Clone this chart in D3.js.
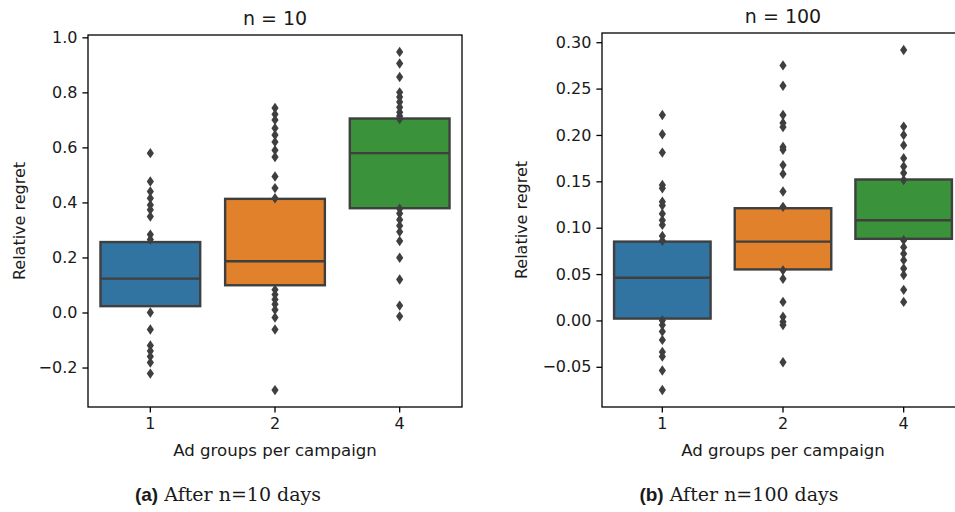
<!DOCTYPE html>
<html>
<head>
<meta charset="utf-8">
<script src="https://cdn.jsdelivr.net/npm/d3@7"></script>
<style>
  body { margin: 0; background: #fff; }
  svg text { font-family: "DejaVu Sans", sans-serif; fill: #1a1a1a; }
</style>
</head>
<body>
<div id="chart"></div>
<script>
// Data (seaborn box plots, fliers drawn outside each box)
const groups = ["1", "2", "4"];
const boxColors = ["#3274a1", "#e1812c", "#3a923a"];

// n = 10 days
const q1N10 = [0.023, 0.099, 0.379];
const medN10 = [0.123, 0.186, 0.579];
const q3N10 = [0.256, 0.413, 0.705];
const fliersN10 = [
  [0.579, 0.476, 0.44, 0.415, 0.391, 0.373, 0.349, 0.283, 0.265,
   0.0, -0.062, -0.12, -0.14, -0.16, -0.182, -0.222],
  [0.743, 0.72, 0.70, 0.67, 0.645, 0.62, 0.59, 0.565, 0.494, 0.452, 0.415,
   0.083, 0.065, 0.047, 0.03, 0.01, -0.018, -0.062, -0.282],
  [0.947, 0.905, 0.856, 0.80, 0.783, 0.765, 0.746, 0.728, 0.714, 0.703,
   0.377, 0.36, 0.337, 0.315, 0.293, 0.26, 0.199, 0.12, 0.025, -0.014]
];

// n = 100 days
const q1N100 = [0.002, 0.055, 0.088];
const medN100 = [0.046, 0.085, 0.108];
const q3N100 = [0.085, 0.121, 0.152];
const fliersN100 = [
  [0.2215, 0.2007, 0.181, 0.146, 0.1425, 0.128, 0.124, 0.115, 0.108, 0.103, 0.091, 0.086,
   0.0, -0.005, -0.012, -0.021, -0.034, -0.039, -0.054, -0.075],
  [0.275, 0.253, 0.2215, 0.213, 0.2085, 0.187, 0.184, 0.1675, 0.158, 0.139, 0.1225,
   0.054, 0.045, 0.02, 0.004, -0.0015, -0.005, -0.045],
  [0.2916, 0.209, 0.2, 0.189, 0.175, 0.166, 0.159, 0.1515,
   0.0866, 0.079, 0.072, 0.065, 0.056, 0.049, 0.033, 0.02]
];

const WIDTH = 955;
const HEIGHT = 512;
const EDGE = "#3f3f3f";

const svg = d3.select("#chart").append("svg")
  .attr("width", WIDTH).attr("height", HEIGHT);

function drawPanel(opts) {
  const { left, right, top, bottom, title, q1, med, q3, fliers, fmt, tickCount, ylabelX } = opts;

  let allVals = fliers.flat().concat(q1, q3);
  let lo = d3.min(allVals), hi = d3.max(allVals);
  let pad = (hi - lo) * 0.05;

  let x = d3.scaleBand().domain(groups).range([left, right]).padding(0);
  let y = d3.scaleLinear().domain([lo - pad, hi + pad]).range([bottom, top]);

  let g = svg.append("g");
  let bw = x.bandwidth() * 0.8;

  // boxes
  groups.forEach((grp, i) => {
    let cx = x(grp) + x.bandwidth() / 2;
    g.append("rect")
      .attr("x", cx - bw / 2)
      .attr("y", y(q3[i]))
      .attr("width", bw)
      .attr("height", y(q1[i]) - y(q3[i]))
      .attr("fill", boxColors[i])
      .attr("stroke", EDGE)
      .attr("stroke-width", 2.4);
    g.append("line")
      .attr("x1", cx - bw / 2).attr("x2", cx + bw / 2)
      .attr("y1", y(med[i])).attr("y2", y(med[i]))
      .attr("stroke", EDGE)
      .attr("stroke-width", 2.4);

    g.selectAll(null)
      .data(fliers[i])
      .enter().append("path")
      .attr("d", d => `M${cx},${y(d) - 5.2}L${cx + 3.6},${y(d)}L${cx},${y(d) + 5.2}L${cx - 3.6},${y(d)}Z`)
      .attr("fill", EDGE);
  });

  // axes
  let yAxis = d3.axisLeft(y).ticks(tickCount).tickFormat(d3.format(fmt))
    .tickSize(5.6).tickPadding(5).tickSizeOuter(0);
  let xAxis = d3.axisBottom(x).tickSize(5.6).tickPadding(5).tickSizeOuter(0);

  let ya = g.append("g").attr("transform", `translate(${left},0)`).call(yAxis);
  let xa = g.append("g").attr("transform", `translate(0,${bottom})`).call(xAxis);
  [ya, xa].forEach(a => {
    a.select(".domain").remove();
    a.selectAll("line").attr("stroke", "#000").attr("stroke-width", 1.3);
    a.selectAll("text").style("font-size", "16px").attr("fill", "#1a1a1a");
  });

  // spines
  g.append("rect")
    .attr("x", left).attr("y", top)
    .attr("width", right - left).attr("height", bottom - top)
    .attr("fill", "none").attr("stroke", "#000").attr("stroke-width", 1.3);

  let midX = x(groups[1]) + x.bandwidth() / 2;

  g.append("text")
    .attr("x", midX).attr("y", top - 10)
    .attr("text-anchor", "middle")
    .style("font-size", "19px")
    .text(title);

  g.append("text")
    .attr("x", midX).attr("y", bottom + 49)
    .attr("text-anchor", "middle")
    .style("font-size", "16.6px")
    .text("Ad groups per campaign");

  g.append("text")
    .attr("transform", `translate(${ylabelX},${(top + bottom) / 2}) rotate(-90)`)
    .attr("text-anchor", "middle")
    .style("font-size", "16px")
    .text("Relative regret");
}

drawPanel({
  left: 88, right: 462, top: 35, bottom: 407,
  title: "n = 10", q1: q1N10, med: medN10, q3: q3N10, fliers: fliersN10,
  fmt: ".1f", tickCount: 7, ylabelX: 25
});

drawPanel({
  left: 602, right: 964, top: 33, bottom: 407,
  title: "n = 100", q1: q1N100, med: medN100, q3: q3N100, fliers: fliersN100,
  fmt: ".2f", tickCount: 8, ylabelX: 527
});

// captions under each panel
function caption(cx, tag, rest) {
  let t = svg.append("text")
    .attr("x", cx).attr("y", 501)
    .attr("text-anchor", "middle");
  t.append("tspan")
    .style("font-family", "'Liberation Sans', Arial, sans-serif")
    .style("font-weight", "bold")
    .style("font-size", "19px")
    .text(tag);
  t.append("tspan")
    .style("font-family", "'DejaVu Serif', serif")
    .style("font-size", "19px")
    .text(" " + rest);
}
caption(228, "(a)", "After n=10 days");
caption(739, "(b)", "After n=100 days");
</script>
</body>
</html>
